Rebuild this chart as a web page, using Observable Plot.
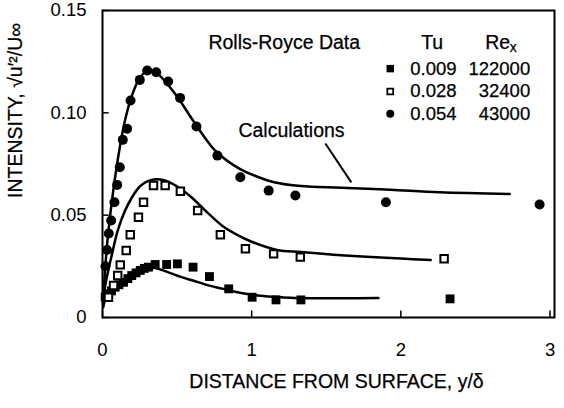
<!DOCTYPE html>
<html>
<head>
<meta charset="utf-8">
<script src="https://cdn.jsdelivr.net/npm/d3@7"></script>
<script src="https://cdn.jsdelivr.net/npm/@observablehq/plot@0.6"></script>
<style>
  html, body { margin: 0; padding: 0; background: white; }
  svg { display: block; }
</style>
</head>
<body>
<div id="chart"></div>
<script>
// ---- tick labels ----
const xTicks = [0, 1, 2, 3];
const xTickLabels = ["0", "1", "2", "3"];
const yTicks = [0, 0.05, 0.10, 0.15];
const yTickLabels = ["0", "0.05", "0.10", "0.15"];
const xTitle = "DISTANCE FROM SURFACE, y/δ";
const yTitle = "INTENSITY, √u′²/U∞";

// ---- measured data: Tu = 0.009 (filled squares) ----
const d009x = [0.018, 0.04, 0.06, 0.085, 0.11, 0.141, 0.17, 0.196, 0.225, 0.253, 0.28, 0.308, 0.353, 0.43, 0.502, 0.607, 0.717, 0.846, 1.003, 1.163, 1.33, 2.33];
const d009y = [0.0099, 0.0116, 0.013, 0.0148, 0.016, 0.0172, 0.019, 0.0205, 0.0218, 0.023, 0.024, 0.0246, 0.0259, 0.0259, 0.0262, 0.0246, 0.0200, 0.0140, 0.0099, 0.0086, 0.0086, 0.0091];

// ---- measured data: Tu = 0.028 (open squares) ----
const d028x = [0.04, 0.074, 0.102, 0.119, 0.159, 0.186, 0.241, 0.275, 0.342, 0.42, 0.522, 0.638, 0.79, 0.958, 1.147, 1.326, 2.29];
const d028y = [0.0099, 0.0156, 0.0205, 0.0257, 0.0327, 0.0404, 0.049, 0.0563, 0.0645, 0.0645, 0.0617, 0.0523, 0.0404, 0.0336, 0.0311, 0.0295, 0.0287];

// ---- measured data: Tu = 0.054 (filled circles) ----
const d054x = [0.02, 0.03, 0.042, 0.058, 0.08, 0.098, 0.116, 0.136, 0.165, 0.188, 0.25, 0.30, 0.36, 0.44, 0.52, 0.63, 0.77, 0.924, 1.114, 1.293, 1.90, 2.93];
const d054y = [0.025, 0.033, 0.041, 0.0474, 0.0563, 0.0648, 0.0734, 0.0868, 0.0922, 0.106, 0.1161, 0.1207, 0.1198, 0.1153, 0.1073, 0.0933, 0.0791, 0.0685, 0.062, 0.0596, 0.0563, 0.0552];

// ---- calculations (solid lines) ----
const c009x = [0.005, 0.03, 0.1, 0.2, 0.3, 0.35, 0.45, 0.53, 0.6, 0.71, 0.81, 0.92, 1.04, 1.15, 1.26, 1.4, 1.6, 1.85];
const c009y = [0.005, 0.011, 0.0157, 0.0207, 0.0237, 0.0242, 0.0218, 0.0197, 0.0182, 0.0157, 0.014, 0.0121, 0.0108, 0.0101, 0.0096, 0.0094, 0.0094, 0.0095];
const c028x = [0.005, 0.03, 0.07, 0.1, 0.15, 0.2, 0.25, 0.3, 0.37, 0.45, 0.52, 0.6, 0.7, 0.8, 0.9, 1.0, 1.17, 1.33, 1.55, 1.77, 2.0, 2.2];
const c028y = [0.01, 0.02, 0.033, 0.042, 0.052, 0.059, 0.064, 0.0665, 0.0675, 0.066, 0.063, 0.0585, 0.0515, 0.045, 0.0405, 0.037, 0.033, 0.032, 0.0307, 0.0297, 0.0288, 0.0281];
const c054x = [0.005, 0.03, 0.06, 0.1, 0.15, 0.2, 0.25, 0.3, 0.35, 0.4, 0.5, 0.6, 0.7, 0.77, 0.92, 1.03, 1.15, 1.33, 1.6, 1.93, 2.26, 2.73];
const c054y = [0.01, 0.035, 0.055, 0.076, 0.096, 0.109, 0.117, 0.1205, 0.12, 0.117, 0.108, 0.097, 0.0865, 0.0805, 0.0726, 0.0690, 0.0661, 0.0642, 0.0634, 0.0624, 0.0612, 0.0604];

// ---- legend ----
const legendTu = ["0.009", "0.028", "0.054"];
const legendRe = ["122000", "32400", "43000"];
const legendKind = ["filled", "open", "circle"];
const legendHeader = "Rolls-Royce Data";
const calcLabel = "Calculations";

const zip = (xs, ys) => xs.map((x, i) => ({x, y: ys[i]}));

// legend rows placed in data space
const legendRowY = [0.1216, 0.1104, 0.0996];
const legendRows = legendTu.map((t, i) => ({tu: t, re: legendRe[i], kind: legendKind[i], y: legendRowY[i]}));

const txt = {fill: "black", stroke: "black", strokeWidth: 0.25};

const marks = [
  Plot.frame({stroke: "black", strokeWidth: 2}),
  // inward ticks
  Plot.ruleX(xTicks, {x: d => d, y1: 0, y2: 0.0032, stroke: "black", strokeWidth: 1.5}),
  Plot.ruleY(yTicks, {y: d => d, x1: 0, x2: 0.045, stroke: "black", strokeWidth: 1.5}),
  Plot.axisX({ticks: xTicks, tickSize: 0, tickPadding: 25, tickFormat: (d) => xTickLabels[xTicks.indexOf(d)], fontSize: 18.5, label: null, ...txt}),
  Plot.axisY({ticks: yTicks, tickSize: 0, tickPadding: 16, tickFormat: (d) => yTickLabels[yTicks.indexOf(d)], fontSize: 18.5, label: null, ...txt}),
  // calculation lines
  Plot.line(zip(c009x, c009y), {x: "x", y: "y", curve: "catmull-rom", stroke: "black", strokeWidth: 2.5}),
  Plot.line(zip(c028x, c028y), {x: "x", y: "y", curve: "catmull-rom", stroke: "black", strokeWidth: 2.5}),
  Plot.line(zip(c054x, c054y), {x: "x", y: "y", curve: "catmull-rom", stroke: "black", strokeWidth: 2.5}),
  // data
  Plot.dot(zip(d009x, d009y), {x: "x", y: "y", symbol: "square", fill: "black", r: 5}),
  Plot.dot(zip(d028x, d028y), {x: "x", y: "y", symbol: "square", fill: "white", stroke: "black", strokeWidth: 2, r: 4.2}),
  Plot.dot(zip(d054x, d054y), {x: "x", y: "y", symbol: "circle", fill: "black", r: 5}),
  // calculations annotation
  Plot.text([calcLabel], {x: 0.911, y: 0.0913, text: d => d, textAnchor: "start", fontSize: 19.5, ...txt}),
  Plot.link([{x1: 1.494, y1: 0.085, x2: 1.668, y2: 0.066}], {x1: "x1", y1: "y1", x2: "x2", y2: "y2", stroke: "black", strokeWidth: 2}),
  // legend header
  Plot.text([legendHeader], {x: 0.71, y: 0.1343, text: d => d, textAnchor: "start", fontSize: 19.5, ...txt}),
  Plot.text(["Tu"], {x: 2.21, y: 0.1343, text: d => d, textAnchor: "middle", fontSize: 19.5, ...txt}),
  Plot.text(["Re"], {x: 2.565, y: 0.1343, text: d => d, textAnchor: "start", fontSize: 19.5, ...txt}),
  Plot.text(["x"], {x: 2.73, y: 0.1343, text: d => d, textAnchor: "start", fontSize: 14, dy: 5, ...txt}),
  // legend rows
  Plot.dot(legendRows.filter(d => d.kind === "filled"), {x: 1.929, y: "y", symbol: "square", fill: "black", r: 4.2}),
  Plot.dot(legendRows.filter(d => d.kind === "open"), {x: 1.929, y: "y", symbol: "square", fill: "white", stroke: "black", strokeWidth: 1.8, r: 3.3}),
  Plot.dot(legendRows.filter(d => d.kind === "circle"), {x: 1.929, y: "y", symbol: "circle", fill: "black", r: 4}),
  Plot.text(legendRows, {x: 2.063, y: "y", text: "tu", textAnchor: "start", fontSize: 18.5, ...txt}),
  Plot.text(legendRows, {x: 2.867, y: "y", text: "re", textAnchor: "end", fontSize: 18.5, ...txt}),
  // axis titles
  Plot.text([xTitle], {frameAnchor: "bottom", dy: 70, dx: 8, text: d => d, fontSize: 19.5, ...txt}),
  Plot.text([yTitle], {frameAnchor: "left", rotate: -90, dx: -87, dy: 34, text: d => d, fontSize: 19.5, ...txt})
];

const chart = Plot.plot({
  width: 564,
  height: 408,
  marginLeft: 102,
  marginRight: 10,
  marginTop: 10,
  marginBottom: 91,
  x: {domain: [0, 3.03], axis: null},
  y: {domain: [0, 0.15], axis: null},
  style: {fontFamily: "'Liberation Sans', Arial, Helvetica, sans-serif", fontSize: "18px", color: "black", background: "white", overflow: "visible"},
  marks
});
document.getElementById("chart").appendChild(chart);
</script>
</body>
</html>
